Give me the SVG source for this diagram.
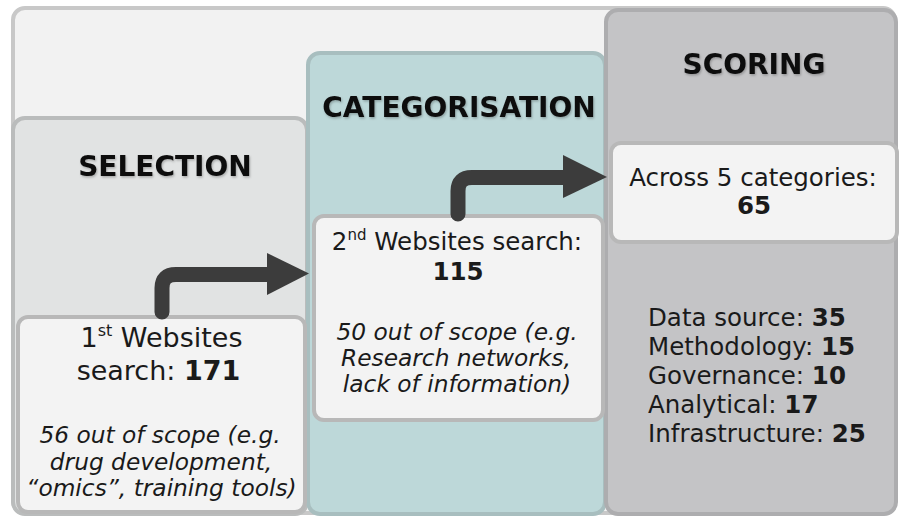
<svg xmlns="http://www.w3.org/2000/svg" width="899" height="517" viewBox="0 0 899 517">
<defs>
<style>
.box{stroke-width:4}
.t{font-family:"DejaVu Sans",Verdana,sans-serif;font-size:28px;font-weight:bold;fill:#111;text-anchor:middle}
.n{font-family:"DejaVu Sans",Verdana,sans-serif;font-size:24.5px;fill:#1a1a1a}
.big{font-size:27px}
.c{text-anchor:middle}
.i{font-style:italic;font-size:23.3px}
.bold{font-weight:bold}
.sup{font-size:15px}
.arrow{fill:none;stroke:#3c3c3c;stroke-width:15;stroke-linecap:round;stroke-linejoin:round}
.head{fill:#3c3c3c}
</style>
<filter id="sh" x="-5%" y="-20%" width="110%" height="140%">
<feDropShadow dx="1" dy="1.5" stdDeviation="1" flood-color="#000" flood-opacity="0.25"/>
</filter>
</defs>

<g id="frame">
<rect class="box" x="13" y="8" width="882" height="505" rx="12" fill="#f2f2f2" stroke="#c8c8c8"/>
</g>

<g id="selection">
<rect class="box" x="13" y="118" width="294" height="396" rx="12" fill="#e1e3e3" stroke="#babcbc"/>
<text class="t" filter="url(#sh)" x="165" y="176">SELECTION</text>
</g>

<g id="categorisation">
<rect class="box" x="308" y="53" width="297" height="461" rx="12" fill="#bdd8d9" stroke="#a8bebf"/>
<text class="t" filter="url(#sh)" x="459" y="117">CATEGORISATION</text>
</g>

<g id="scoring">
<rect class="box" x="606" y="10" width="290" height="504" rx="12" fill="#c4c4c6" stroke="#adadaf"/>
<text class="t" filter="url(#sh)" x="754" y="74">SCORING</text>
<g class="n">
<text x="648" y="326">Data source: <tspan class="bold">35</tspan></text>
<text x="648" y="355">Methodology: <tspan class="bold">15</tspan></text>
<text x="648" y="384">Governance: <tspan class="bold">10</tspan></text>
<text x="648" y="413">Analytical: <tspan class="bold">17</tspan></text>
<text x="648" y="442">Infrastructure: <tspan class="bold">25</tspan></text>
</g>
</g>

<g id="across">
<rect class="box" x="611" y="143" width="286" height="99" rx="10" fill="#f3f3f3" stroke="#b8b8b8"/>
<g class="n c">
<text x="753" y="186">Across 5 categories:</text>
<text class="bold" x="754" y="214">65</text>
</g>
</g>

<g id="second">
<rect class="box" x="314" y="216" width="289" height="204" rx="10" fill="#f3f3f3" stroke="#b8b8b8"/>
<g class="n c">
<text x="457" y="250">2<tspan class="sup" dy="-10">nd</tspan><tspan dy="10"> Websites search:</tspan></text>
<text class="bold" x="458" y="280">115</text>
<text class="i" x="457" y="340">50 out of scope (e.g.</text>
<text class="i" x="456" y="366">Research networks,</text>
<text class="i" x="457" y="392">lack of information)</text>
</g>
</g>

<g id="first">
<rect class="box" x="18" y="317" width="287" height="195" rx="10" fill="#f3f3f3" stroke="#b8b8b8"/>
<g class="n c big">
<text x="161.5" y="347">1<tspan class="sup" style="font-size:16px" dy="-11">st</tspan><tspan dy="11"> Websites</tspan></text>
<text x="158.5" y="380">search: <tspan class="bold">171</tspan></text>
</g>
<g class="n c">
<text class="i" x="160" y="443">56 out of scope (e.g.</text>
<text class="i" x="161" y="470">drug development,</text>
<text class="i" x="161.5" y="496">“omics”, training tools)</text>
</g>
</g>

<g id="connectors">
<path class="arrow" d="M162 312 V288 Q162 274.5 176 274.5 H272"/>
<polygon class="head" points="267,253 309,273.5 267,295"/>
<path class="arrow" d="M458 214 V191 Q458 177.5 472 177.5 H568"/>
<polygon class="head" points="563,155 607,177 563,198"/>
</g>
</svg>
